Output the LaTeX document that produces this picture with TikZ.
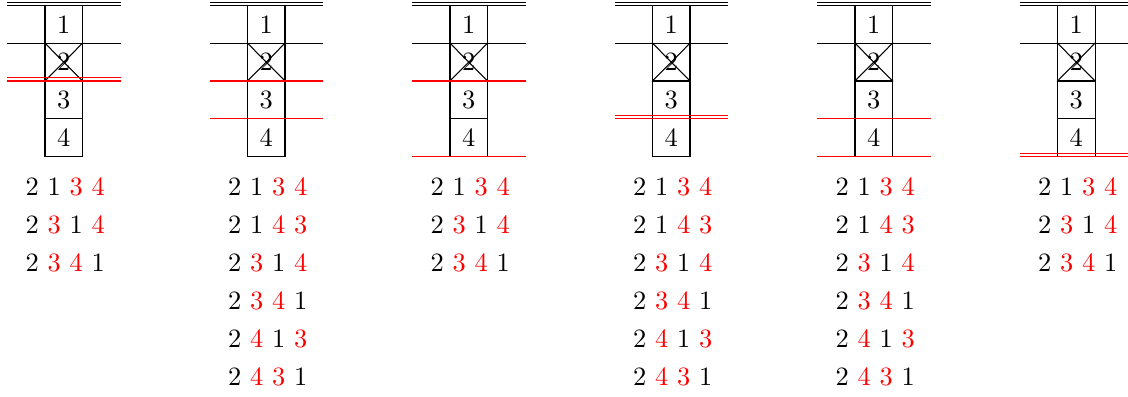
\documentclass[tikz,border=0pt]{standalone}
\newcommand{\R}[1]{\textcolor{red}{#1}}
\tikzset{
  cell/.style={draw,minimum width=0.4987cm,minimum height=0.5027cm,inner sep=0pt},
  perm/.style={inner sep=0pt,anchor=center},
  redline/.style={red},
  dbl/.style={yshift=0.044cm}
}
% #1 panel index, #2 box left x
\newcommand{\drawpanel}[2]{%
  \pgfmathsetmacro{\cx}{#2+18.75}%
  \pgfmathsetmacro{\lx}{#2-38}%
  \pgfmathsetmacro{\rx}{#2+37.5+38}%
  \node[cell] (p#1c1) at (\cx,24.3) {1};
  \node[cell] (p#1c2) at (\cx,62.1) {2};
  \node[cell] (p#1c3) at (\cx,99.9) {3};
  \node[cell] (p#1c4) at (\cx,137.7) {4};
  \draw (p#1c2.north west) -- (p#1c2.south east)
        (p#1c2.north east) -- (p#1c2.south west);
  \foreach \k in {0,...,4}{
    \coordinate (p#1l\k) at (\lx,5.4+37.8*\k);
    \coordinate (p#1r\k) at (\rx,5.4+37.8*\k);
  }
  \draw (p#1l0) -- (p#1r0);
  \draw ([dbl]p#1l0) -- ([dbl]p#1r0);
  \draw (p#1l1) -- (p#1r1);
}
\newcommand{\permlist}[2]{%
  \pgfmathsetmacro{\tx}{#2+20.25}%
  \foreach \t [count=\j from 0] in {#1}{
    \node[perm] at (\tx,186.5+38.1*\j) {\t};
  }
}
\begin{document}
\begin{tikzpicture}[x=0.013298cm,y=-0.013298cm]
\useasboundingbox (0,0) rectangle (1128,397);
% panel 1
\drawpanel{a}{45}
\draw[redline] (pal2) -- (par2);
\draw[redline] ([dbl]pal2) -- ([dbl]par2);
\permlist{{2 1 \R{3} \R{4}},{2 \R{3} 1 \R{4}},{2 \R{3} \R{4} 1}}{45}
% panel 2
\drawpanel{b}{247.5}
\draw[redline] (pbl2) -- (pbr2);
\draw[redline] (pbl3) -- (pbr3);
\permlist{{2 1 \R{3} \R{4}},{2 1 \R{4} \R{3}},{2 \R{3} 1 \R{4}},{2 \R{3} \R{4} 1},{2 \R{4} 1 \R{3}},{2 \R{4} \R{3} 1}}{247.5}
% panel 3
\drawpanel{c}{450}
\draw[redline] (pcl2) -- (pcr2);
\draw[redline] (pcl4) -- (pcr4);
\permlist{{2 1 \R{3} \R{4}},{2 \R{3} 1 \R{4}},{2 \R{3} \R{4} 1}}{450}
% panel 4
\drawpanel{d}{652.5}
\draw[redline] (pdl3) -- (pdr3);
\draw[redline] ([dbl]pdl3) -- ([dbl]pdr3);
\permlist{{2 1 \R{3} \R{4}},{2 1 \R{4} \R{3}},{2 \R{3} 1 \R{4}},{2 \R{3} \R{4} 1},{2 \R{4} 1 \R{3}},{2 \R{4} \R{3} 1}}{652.5}
% panel 5
\drawpanel{e}{855}
\draw[redline] (pel3) -- (per3);
\draw[redline] (pel4) -- (per4);
\permlist{{2 1 \R{3} \R{4}},{2 1 \R{4} \R{3}},{2 \R{3} 1 \R{4}},{2 \R{3} \R{4} 1},{2 \R{4} 1 \R{3}},{2 \R{4} \R{3} 1}}{855}
% panel 6
\drawpanel{f}{1057.5}
\draw[redline] (pfl4) -- (pfr4);
\draw[redline] ([dbl]pfl4) -- ([dbl]pfr4);
\permlist{{2 1 \R{3} \R{4}},{2 \R{3} 1 \R{4}},{2 \R{3} \R{4} 1}}{1057.5}
\end{tikzpicture}
\end{document}
